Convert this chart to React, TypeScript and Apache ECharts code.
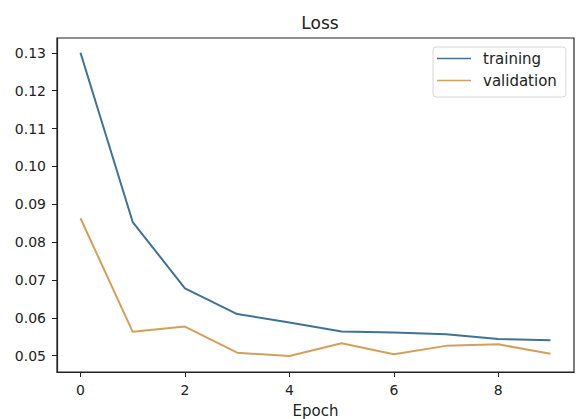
import React, { useEffect, useRef } from "react";
import * as echarts from "echarts";

const epochs = [0, 1, 2, 3, 4, 5, 6, 7, 8, 9];
const training = [0.130, 0.0853, 0.0678, 0.0610, 0.0588, 0.0564, 0.0561, 0.0557, 0.0544, 0.0541];
const validation = [0.0863, 0.0563, 0.0577, 0.0508, 0.0499, 0.0533, 0.0504, 0.0526, 0.0530, 0.0505];
const xTicks = [0, 2, 4, 6, 8];
const yTicks = [0.05, 0.06, 0.07, 0.08, 0.09, 0.10, 0.11, 0.12, 0.13];

const FONT = "DejaVu Sans";

export default function App() {
  const ref = useRef<HTMLDivElement>(null);
  useEffect(() => {
    if (!ref.current) return;
    const chart = echarts.init(ref.current, null, { renderer: "svg" });
    chart.setOption({
      animation: false,
      backgroundColor: "#ffffff",
      title: {
        text: "Loss",
        left: 315,
        top: 9,
        textAlign: "center",
        textStyle: { fontFamily: FONT, fontSize: 17, fontWeight: "normal", color: "#222" },
      },
      legend: {
        orient: "vertical",
        left: 433,
        top: 47,
        padding: [4, 9, 9, 4],
        itemWidth: 34,
        itemHeight: 10,
        itemGap: 7,
        borderColor: "#d6d6d6",
        borderWidth: 1,
        borderRadius: 3,
        icon: "path://M0,4.2 L34,4.2 L34,5.8 L0,5.8 Z",
        textStyle: { fontFamily: FONT, fontSize: 15, color: "#222", padding: [0, 0, 0, 7] },
        data: ["training", "validation"],
      },
      grid: {
        left: 57,
        right: 7,
        top: 38,
        bottom: 47,
        containLabel: false,
        outerBoundsMode: "none",
        show: true,
        borderColor: "#222",
        borderWidth: 1.2,
        backgroundColor: "transparent",
      },
      xAxis: {
        type: "value",
        min: -0.45,
        max: 9.45,
        name: "Epoch",
        nameLocation: "middle",
        nameGap: 31,
        nameTextStyle: { fontFamily: FONT, fontSize: 15, color: "#222" },
        axisLine: { show: true, onZero: false, lineStyle: { color: "#222", width: 1.2 } },
        axisTick: { show: true, customValues: xTicks, length: 5, lineStyle: { color: "#222" } },
        axisLabel: {
          customValues: xTicks,
          fontFamily: FONT,
          fontSize: 14,
          color: "#222",
          margin: 11,
        },
        splitLine: { show: false },
      },
      yAxis: {
        type: "value",
        min: 0.0457,
        max: 0.1339,
        axisLine: { show: true, onZero: false, lineStyle: { color: "#222", width: 1.2 } },
        axisTick: { show: true, customValues: yTicks, length: 5, lineStyle: { color: "#222" } },
        axisLabel: {
          customValues: yTicks,
          fontFamily: FONT,
          fontSize: 14,
          color: "#222",
          margin: 11,
          formatter: (v: number) => v.toFixed(2),
        },
        splitLine: { show: false },
      },
      series: [
        {
          name: "training",
          type: "line",
          data: epochs.map((e, i) => [e, training[i]]),
          symbol: "none",
          lineStyle: { color: "#3f7391", width: 2 },
          itemStyle: { color: "#3f7391" },
        },
        {
          name: "validation",
          type: "line",
          data: epochs.map((e, i) => [e, validation[i]]),
          symbol: "none",
          lineStyle: { color: "#d2a05a", width: 2 },
          itemStyle: { color: "#d2a05a" },
        },
      ],
    });
    return () => chart.dispose();
  }, []);
  return <div ref={ref} style={{ width: 581, height: 419, position: "absolute", left: 0, top: 0 }} />;
}
